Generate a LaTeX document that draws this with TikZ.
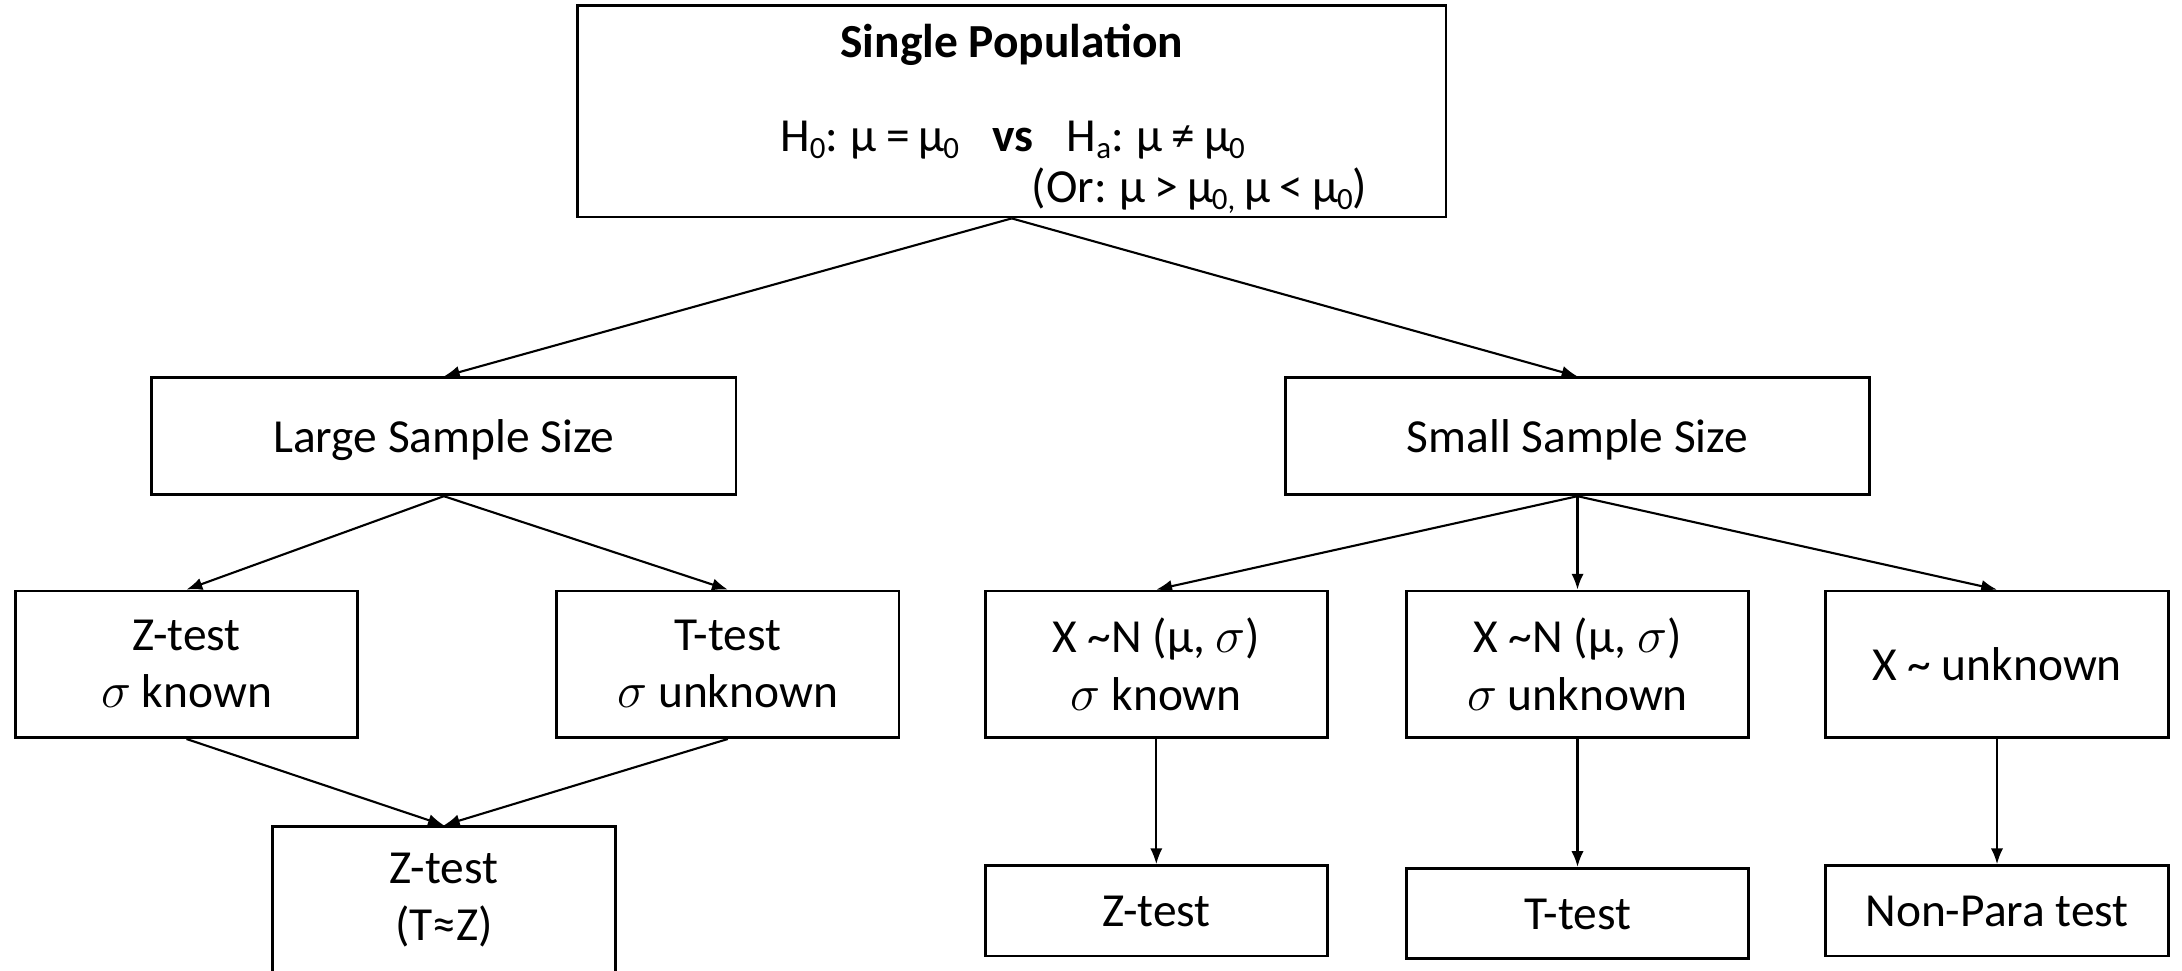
\documentclass[tikz,border=0pt]{standalone}
\usepackage{fontspec}
\setmainfont{Carlito}
\usetikzlibrary{arrows.meta}
\newcommand{\lowidx}[1]{\raisebox{-0.14em}{\fontsize{8.8}{8.8}\selectfont #1}}
\newcommand{\mmu}{\kern-0.45pt μ\kern-0.45pt}
\tikzset{
	box/.style={draw,line width=0.8pt,align=center,inner sep=0pt,minimum width=3.424cm,minimum height=1.466cm},
	oneline/.style={text height=9pt,text depth=0pt},
	wide/.style={box,oneline,minimum width=5.84cm,minimum height=1.17cm},
	low/.style={box,oneline,minimum height=0.904cm},
	arr/.style={-{Latex[length=4.5pt,width=3.5pt]},line width=0.6pt}
}
\begin{document}
\begin{tikzpicture}[y=-1cm,font=\fontsize{13.5}{16.3}\selectfont]
		\useasboundingbox (0,0) rectangle (21.82,9.71);
		% top box
		\node[box,minimum width=8.685cm,minimum height=2.114cm] (pop) at (10.117,1.113) {};
		\node[anchor=base,font=\fontsize{13.5}{16.3}\selectfont\bfseries] (title) at (10.117,0.58) {Single Population};
		\node[anchor=base] (hyp) at (10.125,1.52) {H\lowidx{0}: \mmu{} = \mmu\lowidx{0}\hspace{0.7em}\textbf{vs}\hspace{0.7em}H\lowidx{a}: \mmu{} ≠ \mmu\lowidx{0}};
		\node[anchor=base west,inner sep=0pt] (alt) at (10.31,2.03) {(Or: \mmu{} > \mmu\lowidx{0,} \mmu{} < \mmu\lowidx{0})};
		% sample size
		\node[wide] (large) at (4.439,4.363) {Large Sample Size};
		\node[wide] (small) at (15.775,4.363) {Small Sample Size};
		% large branch
		\node[box] (zk) at (1.865,6.643) {Z-test\\$\sigma$ known};
		\node[box] (tu) at (7.278,6.643) {T-test\\$\sigma$ unknown};
		\node[box] (tz) at (4.439,9.0) {Z-test\\(T≈Z)};
		% small branch
		\node[box] (nk) at (11.563,6.643) {X \textasciitilde N (μ, $\sigma$)\\$\sigma$ known};
		\node[box] (nu) at (15.775,6.643) {X \textasciitilde N (μ, $\sigma$)\\$\sigma$ unknown};
		\node[box,oneline] (xu) at (19.97,6.643) {X \textasciitilde{} unknown};
		\node[low] (z2) at (11.563,9.108) {Z-test};
		\node[low] (t2) at (15.775,9.135) {T-test};
		\node[low] (np) at (19.97,9.108) {Non-Para test};
		% connectors
		\draw[arr] (pop.south) -- (large.north);
		\draw[arr] (pop.south) -- (small.north);
		\draw[arr] (large.south) -- (zk.north);
		\draw[arr] (large.south) -- (tu.north);
		\draw[arr] (zk.south) -- (tz.north);
		\draw[arr] (tu.south) -- (tz.north);
		\draw[arr] (small.south) -- (nk.north);
		\draw[arr] (small.south) -- (nu.north);
		\draw[arr] (small.south) -- (xu.north);
		\draw[arr] (nk.south) -- (z2.north);
		\draw[arr] (nu.south) -- (t2.north);
		\draw[arr] (xu.south) -- (np.north);
	\end{tikzpicture}
\end{document}
